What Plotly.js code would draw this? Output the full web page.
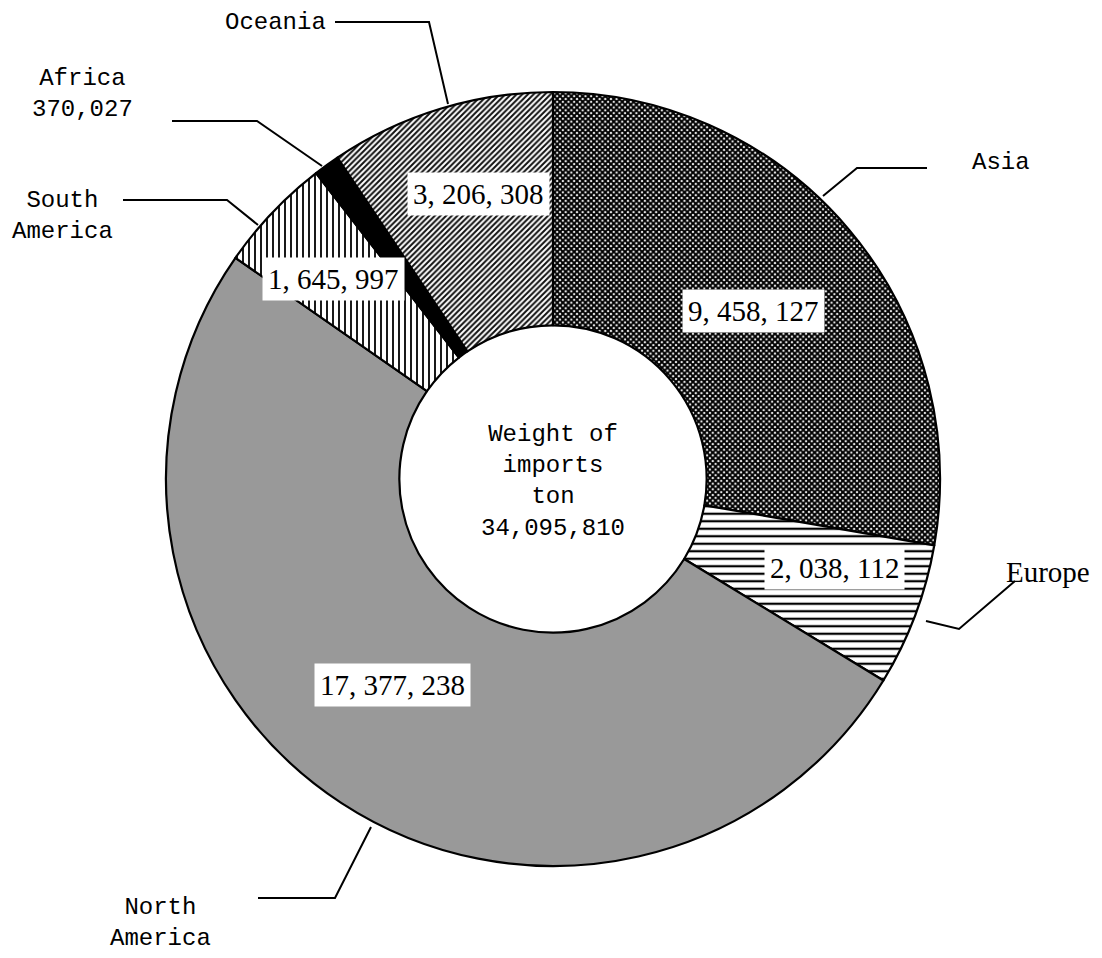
<!DOCTYPE html>
<html>
<head>
<meta charset="utf-8">
<script src="https://cdn.plot.ly/plotly-3.0.1.min.js"></script>
<style>html,body{margin:0;padding:0;background:#fff;}#chart{width:1102px;height:958px;}</style>
</head>
<body>
<div id="chart"></div>
<script>
// ---- data ----
const regions = ['Asia', 'Europe', 'North America', 'South America', 'Africa', 'Oceania'];
const tons = [9458127, 2038112, 17377238, 1645997, 370027, 3206308];
const totalTons = 34095810;
const centerTitle = ['Weight of', 'imports', 'ton'];

// ---- styles / layout helpers (pixels in a 1102x958 page) ----
const W = 1102, H = 958;
const CX = 553, CY = 479, R = 387;
const px = x => x / W;
const py = y => 1 - y / H;
const fmtSpaced = v => v.toLocaleString('en-US').replace(/,/g, ', ');
const fmt = v => v.toLocaleString('en-US');

const patterns = [
  {shape: 'x', size: 4, solidity: 0.75, fgcolor: '#000', bgcolor: '#fff'},
  {shape: '-', size: 7.5, solidity: 0.3, fgcolor: '#000', bgcolor: '#fff'},
  {shape: '', fgcolor: '#999', bgcolor: '#999'},
  {shape: '|', size: 6, solidity: 0.3, fgcolor: '#000', bgcolor: '#fff'},
  {shape: '', fgcolor: '#000', bgcolor: '#000'},
  {shape: '/', size: 4, solidity: 0.5, fgcolor: '#111', bgcolor: '#fff'}
];
const sliceColors = ['#fff', '#fff', '#999', '#fff', '#000', '#fff'];

// value label box centres (px); null = shown outside instead
const valuePos = [[753, 311], [834, 568], [393, 685], [333, 279], null, [478, 194]];
// outside labels: text lines, centre (px), font family
const outLabels = [
  {lines: ['Asia'], x: 1001, y: 163, serif: false},
  {lines: ['Europe'], x: 1048, y: 572, serif: true},
  {lines: ['North', 'America'], x: 160, y: 923, serif: false},
  {lines: ['South', 'America'], x: 62, y: 216, serif: false},
  {lines: ['Africa', null], x: 82, y: 94, serif: false},
  {lines: ['Oceania'], x: 275, y: 22, serif: false}
];
// leader lines (px polylines)
const leaders = [
  [[823, 196], [857, 168], [927, 168]],
  [[926, 621], [959, 629], [1015, 581]],
  [[371, 827], [335, 898], [258, 898]],
  [[258, 225], [227, 200], [123, 200]],
  [[322, 166], [257, 121], [172, 121]],
  [[448, 104], [429, 22], [335, 22]]
];

const MONO = 'Liberation Mono, DejaVu Sans Mono, monospace';
const SERIF = 'Liberation Serif, DejaVu Serif, serif';

const trace = {
  type: 'pie',
  labels: regions,
  values: tons,
  sort: false,
  direction: 'clockwise',
  rotation: 0,
  hole: 0.397,
  textinfo: 'none',
  hoverinfo: 'label+value',
  domain: {x: [px(CX - R), px(CX + R)], y: [py(CY + R), py(CY - R)]},
  marker: {
    colors: sliceColors,
    line: {color: '#000', width: 2.2},
    pattern: {
      shape: patterns.map(p => p.shape),
      size: patterns.map(p => p.size || 8),
      solidity: patterns.map(p => p.solidity || 0.3),
      fgcolor: patterns.map(p => p.fgcolor),
      bgcolor: patterns.map(p => p.bgcolor),
      fillmode: 'replace'
    }
  },
  showlegend: false
};

const annotations = [];
tons.forEach((v, i) => {
  if (!valuePos[i]) return;
  annotations.push({
    xref: 'paper', yref: 'paper', x: px(valuePos[i][0]), y: py(valuePos[i][1]),
    text: fmtSpaced(v), showarrow: false, bgcolor: '#fff', borderpad: 5,
    font: {family: SERIF, size: 29, color: '#000'}, xanchor: 'center', yanchor: 'middle'
  });
});
outLabels.forEach((o, i) => {
  const lines = o.lines.map(l => l === null ? fmt(tons[i]) : l);
  annotations.push({
    xref: 'paper', yref: 'paper', x: px(o.x), y: py(o.y),
    text: lines.join('<br>'), showarrow: false,
    font: {family: o.serif ? SERIF : MONO, size: o.serif ? 29 : 24, color: '#000'},
    xanchor: 'center', yanchor: 'middle', align: 'center'
  });
});
annotations.push({
  xref: 'paper', yref: 'paper', x: px(CX), y: py(481),
  text: centerTitle.concat([fmt(totalTons)]).join('<br>'), showarrow: false,
  font: {family: MONO, size: 24, color: '#000'}, xanchor: 'center', yanchor: 'middle', align: 'center'
});

const shapes = leaders.map(pts => ({
  type: 'path', xref: 'paper', yref: 'paper',
  path: pts.map((p, k) => (k ? 'L' : 'M') + px(p[0]) + ',' + py(p[1])).join(' '),
  line: {color: '#000', width: 2}
}));

const layout = {
  width: W, height: H,
  margin: {l: 0, r: 0, t: 0, b: 0},
  paper_bgcolor: '#fff', plot_bgcolor: '#fff',
  showlegend: false,
  annotations: annotations,
  shapes: shapes
};

Plotly.newPlot('chart', [trace], layout, {displayModeBar: false, staticPlot: true});
</script>
</body>
</html>
